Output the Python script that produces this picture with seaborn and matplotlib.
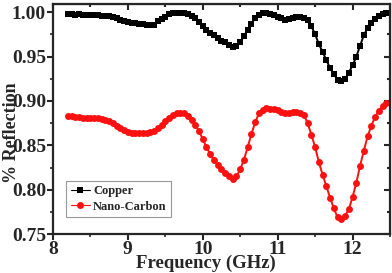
import numpy as np
import pandas as pd
import matplotlib
matplotlib.use("Agg")
import matplotlib.pyplot as plt
import seaborn as sns

# frequency grid (GHz) every 0.05 GHz
freq = [8.20, 8.25, 8.30, 8.35, 8.40, 8.45, 8.50, 8.55, 8.60, 8.65,
        8.70, 8.75, 8.80, 8.85, 8.90, 8.95, 9.00, 9.05, 9.10, 9.15,
        9.20, 9.25, 9.30, 9.35, 9.40, 9.45, 9.50, 9.55, 9.60, 9.65,
        9.70, 9.75, 9.80, 9.85, 9.90, 9.95, 10.00, 10.05, 10.10, 10.15,
        10.20, 10.25, 10.30, 10.35, 10.40, 10.45, 10.50, 10.55, 10.60, 10.65,
        10.70, 10.75, 10.80, 10.85, 10.90, 10.95, 11.00, 11.05, 11.10, 11.15,
        11.20, 11.25, 11.30, 11.35, 11.40, 11.45, 11.50, 11.55, 11.60, 11.65,
        11.70, 11.75, 11.80, 11.85, 11.90, 11.95, 12.00, 12.05, 12.10, 12.15,
        12.20, 12.25, 12.30, 12.35, 12.40, 12.45]

copper = [0.998, 0.998, 0.997, 0.998, 0.997, 0.997, 0.997, 0.997, 0.997, 0.996,
          0.996, 0.996, 0.995, 0.993, 0.991, 0.990, 0.989, 0.988, 0.988, 0.987,
          0.987, 0.986, 0.985, 0.986, 0.990, 0.992, 0.995, 0.998, 0.999, 0.999,
          0.999, 0.999, 0.998, 0.996, 0.993, 0.989, 0.984, 0.980, 0.977, 0.974,
          0.971, 0.968, 0.966, 0.963, 0.961, 0.962, 0.966, 0.973, 0.980, 0.987,
          0.993, 0.997, 0.999, 0.999, 0.998, 0.997, 0.995, 0.993, 0.991, 0.992,
          0.993, 0.994, 0.994, 0.993, 0.991, 0.984, 0.975, 0.964, 0.955, 0.946,
          0.937, 0.930, 0.924, 0.923, 0.925, 0.932, 0.940, 0.950, 0.962, 0.974,
          0.982, 0.988, 0.992, 0.996, 0.998, 0.999]

nano_carbon = [0.883, 0.883, 0.882, 0.882, 0.881, 0.881, 0.881, 0.881, 0.881, 0.880,
               0.879, 0.877, 0.875, 0.872, 0.869, 0.867, 0.865, 0.864, 0.864, 0.864,
               0.864, 0.864, 0.865, 0.866, 0.869, 0.873, 0.877, 0.881, 0.884, 0.886,
               0.887, 0.886, 0.883, 0.879, 0.873, 0.866, 0.857, 0.848, 0.840, 0.833,
               0.828, 0.823, 0.819, 0.815, 0.812, 0.815, 0.823, 0.834, 0.848, 0.863,
               0.876, 0.886, 0.890, 0.892, 0.891, 0.891, 0.890, 0.888, 0.887, 0.887,
               0.888, 0.888, 0.887, 0.884, 0.875, 0.862, 0.848, 0.831, 0.817, 0.804,
               0.791, 0.779, 0.769, 0.767, 0.771, 0.778, 0.792, 0.808, 0.827, 0.844,
               0.860, 0.872, 0.882, 0.889, 0.894, 0.898]

df = pd.DataFrame({
    'freq': freq * 2,
    'refl': copper + nano_carbon,
    'sample': ['Copper'] * len(freq) + ['Nano-Carbon'] * len(freq),
})

sns.set_style('ticks')
plt.rcParams['font.family'] = ['Liberation Serif', 'DejaVu Serif']
plt.rcParams['font.weight'] = 'bold'

fig = plt.figure(figsize=(3.92, 2.73), dpi=100)
ax = fig.add_axes([0.135, 0.142, 0.86, 0.843])

sns.lineplot(data=df, x='freq', y='refl', hue='sample', style='sample',
             palette={'Copper': 'black', 'Nano-Carbon': '#ff1010'},
             markers={'Copper': 's', 'Nano-Carbon': 'o'}, dashes=False,
             markersize=5, markeredgewidth=0, linewidth=1.4, ax=ax)

ax.set_xlim(8, 12.5)
ax.set_ylim(0.75, 1.009)
ax.set_xticks([8, 9, 10, 11, 12])
ax.set_xticks([8.5, 9.5, 10.5, 11.5, 12.5], minor=True)
ax.set_yticks([0.75, 0.80, 0.85, 0.90, 0.95, 1.00])
ax.set_yticks(np.arange(0.775, 1.0, 0.05), minor=True)
ax.yaxis.set_major_formatter(matplotlib.ticker.FormatStrFormatter('%.2f'))
ax.tick_params(which='major', direction='out', length=4, width=1.5, labelsize=14, pad=1)
ax.tick_params(which='minor', direction='out', length=2.5, width=1.2)
for s in ax.spines.values():
    s.set_linewidth(1.6)

# mirrored inward ticks on top and right
top = ax.secondary_xaxis('top')
top.set_xticks([8, 9, 10, 11, 12])
top.set_xticks([8.5, 9.5, 10.5, 11.5], minor=True)
top.tick_params(which='both', direction='in', labeltop=False, width=1.5, length=4)
top.tick_params(which='minor', length=2.5)
right = ax.secondary_yaxis('right')
right.set_yticks([0.75, 0.80, 0.85, 0.90, 0.95, 1.00])
right.set_yticks(np.arange(0.775, 1.0, 0.05), minor=True)
right.tick_params(which='both', direction='in', labelright=False, width=1.5, length=4)
right.tick_params(which='minor', length=2.5)

ax.set_xlabel('Frequency (GHz)', fontsize=13.5, fontweight='bold')
ax.set_ylabel('% Reflection', fontsize=13, fontweight='bold')
ax.xaxis.set_label_coords(0.455, -0.088)
ax.yaxis.set_label_coords(-0.097, 0.44)

leg = ax.legend(loc='lower left', bbox_to_anchor=(0.04, 0.075), fontsize=9,
                frameon=True, fancybox=False, edgecolor='#808080',
                handlelength=1.5, borderpad=0.35, labelspacing=0.25,
                handletextpad=0.3, borderaxespad=0)
leg.get_frame().set_linewidth(0.8)
for h in leg.legend_handles:
    h.set_markersize(5)
    h.set_linewidth(0.8)

fig.savefig('out.png', dpi=100)
